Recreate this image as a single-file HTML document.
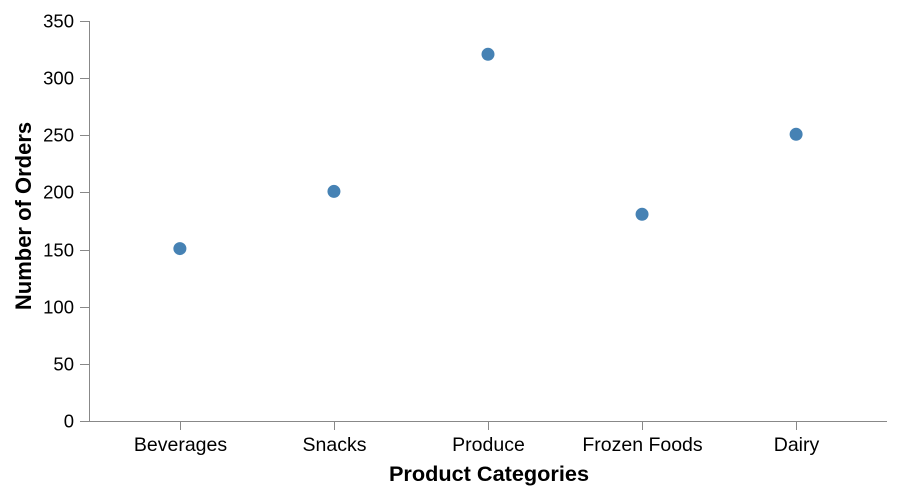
<!DOCTYPE html>
<html><head><meta charset="utf-8"><style>
html,body{margin:0;padding:0;background:#fff;}
svg{display:block;font-family:"Liberation Sans",Arial,sans-serif;}
</style></head><body>
<svg id="chart" width="898" height="494" viewBox="0 0 898 494"></svg>
<script>
const categories = ["Beverages","Snacks","Produce","Frozen Foods","Dairy"];
const orders = [150, 200, 320, 180, 250];
const yTicks = [0,50,100,150,200,250,300,350];

const NS="http://www.w3.org/2000/svg";
const svg=document.getElementById('chart');
const X0=89, X1=887, Y0=421, Y1=21, yMax=350, pad=0.59;
const step=(X1-X0)/(categories.length-1+2*pad);
function xScale(i){return X0+step*(pad+i);}
function yScale(v){return Y0-(v/yMax)*(Y0-Y1);}
function mk(tag,attrs,parent){const e=document.createElementNS(NS,tag);for(const k in attrs)e.setAttribute(k,attrs[k]);(parent||svg).appendChild(e);return e;}

const yAxis=mk('g',{});


mk('line',{x1:X0+0.5,x2:X0+0.5,y1:Y1,y2:Y0,stroke:'#888'},yAxis);
yTicks.forEach(t=>{
  const y=Math.round(yScale(t))+0.5;
  mk('line',{x1:X0-9,x2:X0,y1:y,y2:y,stroke:'#888'},yAxis);
  const tx=mk('text',{x:X0-15,y:y+6,'text-anchor':'end','font-size':18.5,fill:'#000'},yAxis);
  tx.textContent=t;
  
  
});
const yt=mk('text',{transform:'translate(31,216) rotate(-90)','text-anchor':'middle','font-size':22,'font-weight':'bold',fill:'#000'});
yt.textContent='Number of Orders';



const xAxis=mk('g',{});


mk('line',{x1:X0,x2:X1,y1:Y0+0.5,y2:Y0+0.5,stroke:'#888'},xAxis);
categories.forEach((c,i)=>{
  const x=Math.round(xScale(i))+0.5;
  mk('line',{x1:x,x2:x,y1:Y0,y2:Y0+9,stroke:'#888'},xAxis);
  const tx=mk('text',{x:x,y:451,'text-anchor':'middle','font-size':19.5,fill:'#000'},xAxis);
  tx.textContent=c;
  
  
});
const xt=mk('text',{x:489,y:481,'text-anchor':'middle','font-size':21.7,'font-weight':'bold',fill:'#000'});
xt.textContent='Product Categories';



orders.forEach((v,i)=>{
  const c=mk('circle',{cx:xScale(i),cy:yScale(v)-1,r:6.5,fill:'#4682b4'});
  
  
});
</script>
</body></html>
